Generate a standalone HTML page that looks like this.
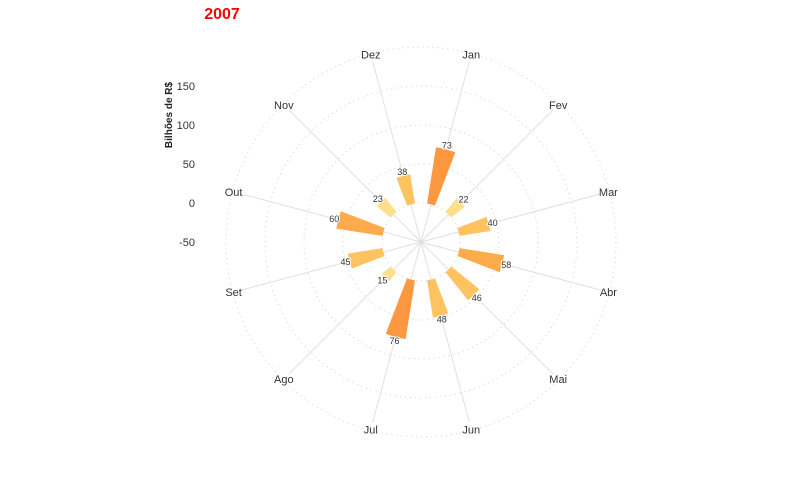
<!DOCTYPE html>
<html><head><meta charset="utf-8"><style>
html,body{margin:0;padding:0;background:#fff;width:800px;height:480px;overflow:hidden}
svg{font-family:"Liberation Sans",sans-serif}
</style></head><body>
<svg id="chart" width="800" height="480">
<text x="222" y="19" text-anchor="middle" font-size="16" font-weight="bold" fill="#ff0000">2007</text>
<text transform="translate(172,115) rotate(-90)" text-anchor="middle" font-size="10" font-weight="bold" fill="#222">Bilhões de R$</text>
<g id="grid"></g><g id="bars"></g><g id="labels"></g><g id="yaxis"></g>
</svg>
<script>
const months = ["Jan","Fev","Mar","Abr","Mai","Jun","Jul","Ago","Set","Out","Nov","Dez"];
const values = [73,22,40,58,46,48,76,15,45,60,23,38];
const yTicks = [150,100,50,0,-50];
const gridVals = [0,50,100,150,200];

const NS="http://www.w3.org/2000/svg";
const cx=421, cy=242, yMin=-50, k=0.78;
function r(v){return (v-yMin)*k;}
function ang(i){return (i*30+15)*Math.PI/180;}
function pt(a,rad){return [cx+rad*Math.sin(a), cy-rad*Math.cos(a)];}
function color(v){
  if(v>=70) return "#fd9841";
  if(v>=55) return "#fdab4b";
  if(v>=35) return "#fec35f";
  return "#fedf8a";
}
function mk(tag,attrs,parent){const e=document.createElementNS(NS,tag);for(const a in attrs)e.setAttribute(a,attrs[a]);parent.appendChild(e);return e;}
const grid=document.getElementById('grid'), bars=document.getElementById('bars'), labels=document.getElementById('labels'), yaxis=document.getElementById('yaxis');

gridVals.forEach(g=>{
  const c=mk('circle',{cx:cx,cy:cy,r:r(g),fill:'none',stroke:'#cfcfcf','stroke-dasharray':'1,4','stroke-width':1},grid);
  
  
});
months.forEach((m,i)=>{
  const a=ang(i);
  const p=pt(a,r(200)-8);
  const l=mk('line',{x1:cx,y1:cy,x2:p[0],y2:p[1],stroke:'#e0e0e0','stroke-width':1},grid);
  
  
  const q=pt(a,r(200)-1);
  const t=mk('text',{x:q[0],y:q[1]+4,'text-anchor':'middle','font-size':11,fill:'#333'},labels);
  t.textContent=m;
  
  
});
values.forEach((v,i)=>{
  const a=ang(i), w=6*Math.PI/180;
  const r0=r(0), r1=r(v);
  const p1=pt(a-w,r0),p2=pt(a-w,r1),p3=pt(a+w,r1),p4=pt(a+w,r0);
  const d=`M${p1}L${p2}A${r1},${r1} 0 0 1 ${p3}L${p4}A${r0},${r0} 0 0 0 ${p1}Z`;
  const b=mk('path',{d:d,fill:color(v)},bars);
  
  
  const q=pt(a,r1+4);
  const t=mk('text',{x:q[0],y:q[1]+3,'text-anchor':'middle','font-size':9,fill:'#333',stroke:'#fff','stroke-width':2,'paint-order':'stroke'},labels);
  t.textContent=v;
  
  
});
yTicks.forEach(v=>{
  const t=mk('text',{x:195,y:cy-r(v)+4,'text-anchor':'end','font-size':11,fill:'#333'},yaxis);
  t.textContent=v;
  
  
});
</script>
</body></html>
